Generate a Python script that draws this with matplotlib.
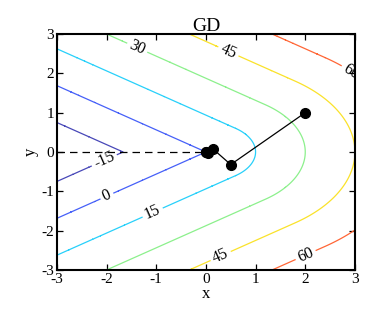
import numpy as np
import matplotlib
matplotlib.use("Agg")
import matplotlib.pyplot as plt

plt.rcParams["font.family"] = ["Liberation Serif", "DejaVu Serif"]
plt.rcParams["axes.unicode_minus"] = False

# contour levels and their colours
levels = [-15, 0, 15, 30, 45, 60]
level_colors = ["#4848b8", "#4660f8", "#28d0fa", "#8cf08c", "#fae22a", "#ff6636"]

# gradient descent iterates
path_x = [2.0, 0.5, 0.14, 0.04, 0.01, 0.0]
path_y = [1.0, -0.32, 0.08, -0.02, 0.005, 0.0]

# where the inline contour labels sit
label_spots = [(-1.4, 2.6), (0.45, 2.55), (2.95, 2.1), (-2.05, -0.2),
               (-2.0, -1.1), (-1.05, -1.6), (0.3, -2.65), (2.0, -2.6)]


def wolfe(x, y):
    smooth = 5 * np.sqrt(9 * x ** 2 + 16 * y ** 2)
    kinked = 9 * x + 16 * np.abs(y)
    return np.where(x > np.abs(y), smooth, kinked)


def main():
    gx = np.linspace(-3, 3, 601)
    gy = np.linspace(-3, 3, 601)
    X, Y = np.meshgrid(gx, gy)
    Z = wolfe(X, Y)

    fig = plt.figure(figsize=(3.74, 3.15), dpi=100)
    ax = fig.add_axes([0.152, 0.143, 0.797, 0.749])

    cs = ax.contour(X, Y, Z, levels=levels, colors=level_colors, linewidths=0.9)
    ax.clabel(cs, fmt="%d", fontsize=11.5, colors="black", manual=label_spots,
              inline=True, inline_spacing=3)

    ax.plot([-3, 0], [0, 0], "k--", lw=0.9, dashes=(6, 4))
    ax.plot(path_x, path_y, "-o", color="black", lw=0.9, ms=7)

    ax.set_xlim(-3, 3)
    ax.set_ylim(-3, 3)
    ax.set_xticks([-3, -2, -1, 0, 1, 2, 3])
    ax.set_yticks([-3, -2, -1, 0, 1, 2, 3])
    ax.tick_params(direction="in", top=True, right=True, length=4.5, width=0.9,
                   pad=2, labelsize=11)
    for sp in ax.spines.values():
        sp.set_linewidth(1.5)

    ax.set_title("GD", fontsize=14, pad=2)
    ax.set_xlabel("x", fontsize=12, labelpad=0)
    ax.set_ylabel("y", fontsize=12, labelpad=2)

    fig.savefig("out.png", dpi=100)


if __name__ == "__main__":
    main()
